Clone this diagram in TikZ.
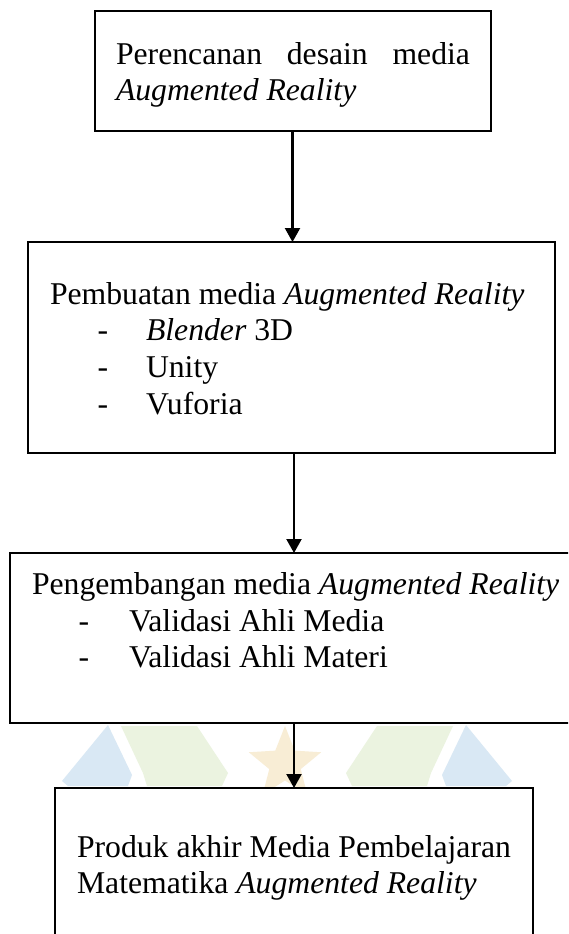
\documentclass[tikz,border=0pt]{standalone}
\usepackage{fontspec}
\setmainfont{Liberation Serif}
\usetikzlibrary{arrows.meta,shapes.geometric}
\definecolor{wmblue}{HTML}{D9E8F4}
\definecolor{wmgreen}{HTML}{EBF3E0}
\definecolor{wmstar}{HTML}{F8EDD5}
\begin{document}
\begin{tikzpicture}[x=1pt,y=-1pt,
  box/.style={draw, line width=2.7pt, fill=white, inner sep=0pt, outer sep=0pt},
  txt/.style={anchor=base west, inner sep=0pt, outer sep=0pt, font=\fontsize{31.7}{36.6}\selectfont},
  arr/.style={line width=2.2pt, -{Triangle[length=14pt,width=15pt]}}]
\useasboundingbox (0,0) rectangle (568,934);
\fill[white] (0,0) rectangle (568,934);
\clip (0,0) rectangle (568,934);
% faint watermark
\fill[wmblue] (62,781) -- (108,725) -- (132,775) -- (128,786) -- (68,786) -- cycle;
\fill[wmgreen] (121,726) -- (197,726) -- (228,773) -- (222,786) -- (147,786) -- (143,773) -- cycle;
\node[star, star points=5, star point ratio=2.3, minimum size=76pt, inner sep=0pt, fill=wmstar, draw=none] (wstar) at (285,764) {};
\fill[wmgreen] (453,726) -- (377,726) -- (346,773) -- (352,786) -- (427,786) -- (431,773) -- cycle;
\fill[wmblue] (512,781) -- (466,725) -- (442,775) -- (446,786) -- (506,786) -- cycle;
% boxes
\node[box, minimum width=396pt, minimum height=120pt] (b1) at (293,71) {};
\node[box, minimum width=527pt, minimum height=211pt] (b2) at (291.5,347.5) {};
\node[box, minimum width=600pt, minimum height=170pt] (b3) at (310,638) {};
\node[box, minimum width=478pt, minimum height=180pt] (b4) at (294,878) {};
% texts
\node[txt] (t1a) at (116,64) {\hbox to 354pt{Perencanan\hfill desain\hfill media}};
\node[txt] (t1b) at (116,100) {\textit{Augmented Reality}};
\node[txt] (t2a) at (50,304) {Pembuatan media \textit{Augmented Reality}};
\node[txt] (d2a) at (97.5,340) {-};
\node[txt] (d2b) at (97.5,377) {-};
\node[txt] (d2c) at (97.5,414) {-};
\node[txt] (t2b) at (146,340) {\textit{Blender} 3D};
\node[txt] (t2c) at (146,377) {Unity};
\node[txt] (t2d) at (146,414) {Vuforia};
\node[txt] (t3a) at (32,594) {Pengembangan media \textit{Augmented Reality}};
\node[txt] (d3a) at (78.5,631) {-};
\node[txt] (d3b) at (78.5,667) {-};
\node[txt] (t3b) at (129,631) {Validasi Ahli Media};
\node[txt] (t3c) at (129,667) {Validasi Ahli Materi};
\node[txt] (t4a) at (77,857) {Produk akhir Media Pembelajaran};
\node[txt] (t4b) at (77,893) {Matematika \textit{Augmented Reality}};
% connectors
\coordinate (ax1) at (292.5,0);
\coordinate (ax2) at (294,0);
\draw[arr] (b1.south -| ax1) -- (b2.north -| ax1);
\draw[arr] (b2.south -| ax2) -- (b3.north -| ax2);
\draw[arr] (b3.south -| ax2) -- (b4.north -| ax2);
\end{tikzpicture}
\end{document}
